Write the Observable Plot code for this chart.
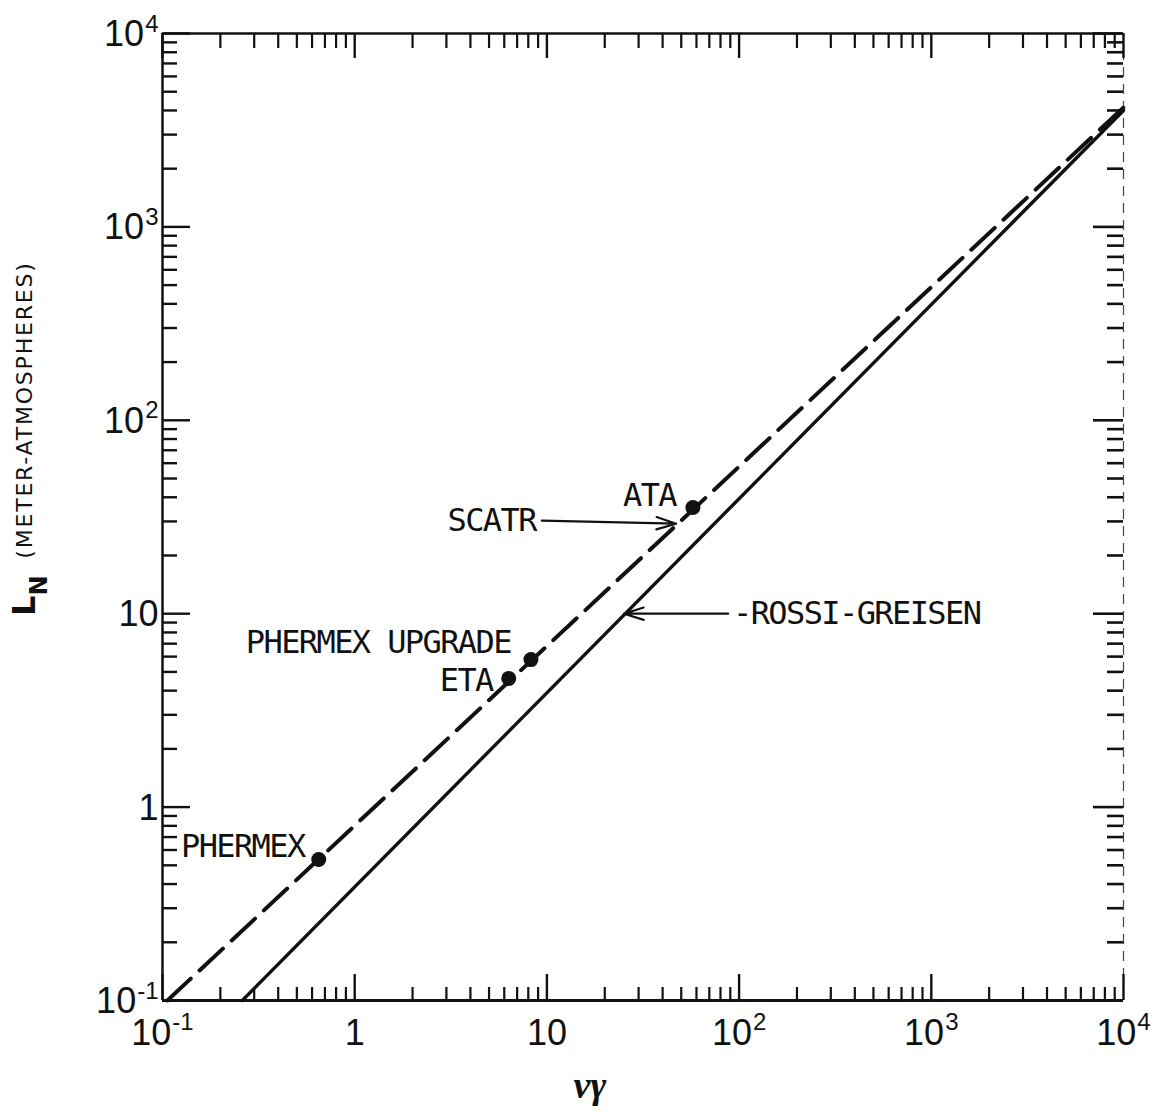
<!DOCTYPE html>
<html><head><meta charset="utf-8">
<script src="https://cdn.jsdelivr.net/npm/d3@7"></script>
<script src="https://cdn.jsdelivr.net/npm/@observablehq/plot@0.6"></script>
<style>body{margin:0;background:#fff;} svg{display:block;}</style>
</head><body><div id="chart"></div>
<script>
// ---- data ----
const decades = [0.1, 1, 10, 100, 1000, 10000];
const xTickLabels = ["10^-1", "1", "10", "10^2", "10^3", "10^4"];
const yTickLabels = ["10^-1", "1", "10", "10^2", "10^3", "10^4"];

// dashed curve (measured L_N for machines)
const dashedX = [0.106, 10000];
const dashedY = [0.1, 4140];
// solid Rossi-Greisen curve
const solidX = [0.26, 10000];
const solidY = [0.1, 4000];

// machine points
const pointNames = ["PHERMEX", "ETA", "PHERMEX UPGRADE", "ATA"];
const pointX = [0.65, 6.33, 8.26, 57.5];
const pointY = [0.536, 4.63, 5.79, 35.4];

// annotation labels (right-anchored)
const labelText = ["PHERMEX", "ETA", "PHERMEX UPGRADE", "SCATR", "ATA"];
const labelX = [0.569, 5.42, 6.73, 9.08, 48.7];
const labelY = [0.625, 4.52, 7.1, 30.3, 40.8];
// left-anchored label
const rossiText = ["-ROSSI-GREISEN"];
const rossiX = [93];
const rossiY = [10];
// arrows (from label to curve)
const arrowX1 = [9.4, 87.7];
const arrowY1 = [30.3, 10];
const arrowX2 = [47, 25.2];
const arrowY2 = [29.2, 10];

const xLabel = "νγ";
const yLabel = "L_N (METER-ATMOSPHERES)";

// ---- derived tables ----
const minor = decades.slice(0, -1).flatMap(d => [2,3,4,5,6,7,8,9].map(m => m * d));
const dashed = dashedX.map((x, i) => ({x, y: dashedY[i]}));
const solid = solidX.map((x, i) => ({x, y: solidY[i]}));
const points = pointNames.map((name, i) => ({name, x: pointX[i], y: pointY[i]}));
const labels = labelText.map((text, i) => ({text, x: labelX[i], y: labelY[i]}));
const rossi = rossiText.map((text, i) => ({text, x: rossiX[i], y: rossiY[i]}));
const arrows = arrowX1.map((x1, i) => ({x1, y1: arrowY1[i], x2: arrowX2[i], y2: arrowY2[i]}));

const W = 1153, H = 1115;
const mL = 162, mR = 30, mT = 33, mB = 115;
const FW = W - mL - mR, FH = H - mT - mB;
const tickFont = "'Liberation Sans', sans-serif";
const annFont = "'DejaVu Sans Mono', monospace";
const ink = "#111";

const chart = Plot.plot({
  width: W, height: H,
  marginLeft: mL, marginRight: mR, marginTop: mT, marginBottom: mB,
  x: {type: "log", domain: [0.1, 10000], axis: null},
  y: {type: "log", domain: [0.1, 10000], axis: null},
  style: {background: "#fff", color: ink},
  marks: [
    // frame: left, bottom, top solid; right faint
    Plot.ruleX([0.1], {stroke: ink, strokeWidth: 2.5}),
    Plot.ruleY([0.1], {stroke: ink, strokeWidth: 3}),
    Plot.ruleY([10000], {stroke: ink, strokeWidth: 2.5}),
    Plot.ruleX([10000], {stroke: "#444", strokeWidth: 1.2, strokeDasharray: "10,7"}),
    // bottom ticks
    Plot.ruleX(minor, {x: d => d, insetTop: FH - 13, stroke: ink, strokeWidth: 2.2}),
    Plot.ruleX(decades, {x: d => d, insetTop: FH - 26, stroke: ink, strokeWidth: 2.4}),
    // top ticks
    Plot.ruleX(minor, {x: d => d, insetBottom: FH - 15, stroke: ink, strokeWidth: 2.2}),
    Plot.ruleX(decades, {x: d => d, insetBottom: FH - 25, stroke: ink, strokeWidth: 2.4}),
    // left ticks
    Plot.ruleY(minor, {y: d => d, insetRight: FW - 15, stroke: ink, strokeWidth: 2.4}),
    Plot.ruleY(decades, {y: d => d, insetRight: FW - 28, stroke: ink, strokeWidth: 2.4}),
    // right ticks
    Plot.ruleY(minor, {y: d => d, insetLeft: FW - 16, stroke: ink, strokeWidth: 2.6}),
    Plot.ruleY(decades, {y: d => d, insetLeft: FW - 30, stroke: ink, strokeWidth: 2.6}),
    // tick labels
    Plot.text(decades, {x: d => d, text: (d, i) => xTickLabels[i], frameAnchor: "bottom", dy: 44,
      fontSize: 36, fontFamily: tickFont, fill: ink}),
    Plot.text(decades, {y: d => d, text: (d, i) => yTickLabels[i], frameAnchor: "left", textAnchor: "end",
      dx: -4, dy: 1, fontSize: 36, fontFamily: tickFont, fill: ink}),
    // curves
    Plot.line(solid, {x: "x", y: "y", stroke: ink, strokeWidth: 3.4}),
    Plot.line(dashed, {x: "x", y: "y", stroke: ink, strokeWidth: 4, strokeDasharray: "32,12"}),
    Plot.dot(points, {x: "x", y: "y", r: 7.5, fill: ink}),
    // annotations
    Plot.arrow(arrows, {x1: "x1", y1: "y1", x2: "x2", y2: "y2", stroke: ink, strokeWidth: 2.2, headLength: 14, headAngle: 35}),
    Plot.text(labels, {x: "x", y: "y", text: "text", textAnchor: "end", dx: -3, fontSize: 32, fontFamily: annFont, fill: ink,
      className: "ann"}),
    Plot.text(rossi, {x: "x", y: "y", text: "text", textAnchor: "start", fontSize: 32, fontFamily: annFont, fill: ink,
      className: "ann"}),
    // axis titles
    Plot.text([xLabel], {x: 10, text: d => d, frameAnchor: "bottom", dx: 43, dy: 97, fontSize: 38,
      fontFamily: "'Liberation Serif', serif", fontStyle: "italic", fontWeight: "bold", fill: ink}),
    Plot.text([yLabel], {text: d => d, frameAnchor: "left", rotate: -90, textAnchor: "start", dx: -138, dy: 99,
      fontSize: 32, fontFamily: "'DejaVu Sans', sans-serif", fill: ink})
  ]
});

// superscripts / subscripts as tspans
d3.select(chart).selectAll("text").each(function() {
  const t = this.textContent;
  const sel = d3.select(this);
  let m;
  if ((m = t.match(/^([^_^]*)\^(.*)$/))) {
    this.textContent = "";
    sel.append("tspan").text(m[1]);
    sel.append("tspan").attr("font-size", 24).attr("dy", "-0.6em").attr("dx", 1).text(m[2]);
  } else if ((m = t.match(/^(.)_(.)(.*)$/))) {
    this.textContent = "";
    sel.append("tspan").attr("font-weight", "bold").attr("font-size", 32).text(m[1]);
    sel.append("tspan").attr("font-weight", "bold").attr("font-size", 24).attr("dy", 12).text(m[2]);
    sel.append("tspan").attr("font-size", 22).attr("dy", -15).attr("dx", 8).attr("letter-spacing", 1.8).text(m[3]);
  }
});
d3.select(chart).selectAll("g.ann text").attr("letter-spacing", -1.6);

document.getElementById("chart").appendChild(chart);
</script>
</body></html>
